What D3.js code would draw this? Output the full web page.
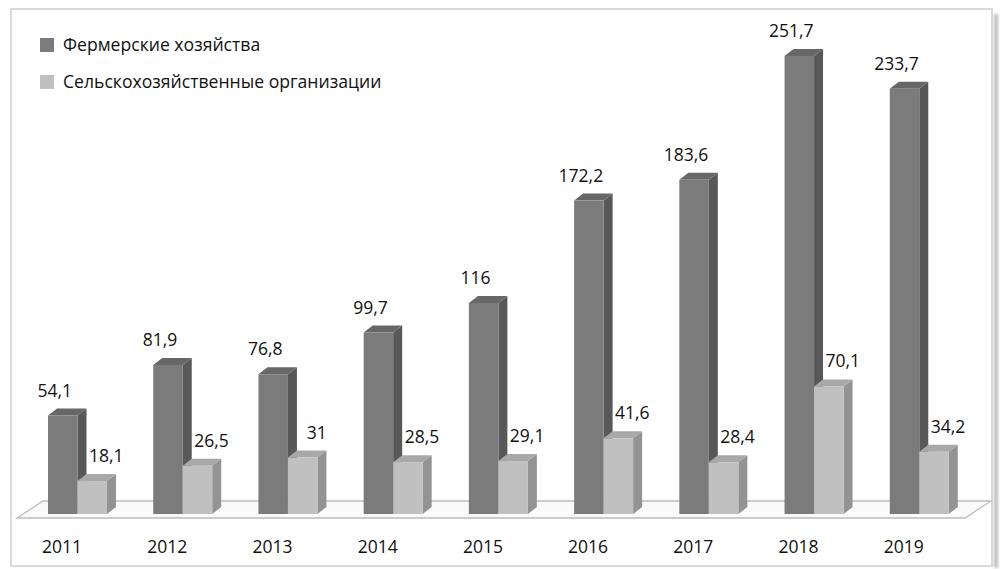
<!DOCTYPE html>
<html><head><meta charset="utf-8">
<script src="https://cdn.jsdelivr.net/npm/d3@7"></script>
<style>
html,body{margin:0;padding:0;background:#fff;}
svg{display:block;font-family:"Open Sans",sans-serif;}
</style></head>
<body>
<svg id="c" width="1001" height="569"></svg>
<script>
const years = ["2011","2012","2013","2014","2015","2016","2017","2018","2019"];
const farms = [54.1, 81.9, 76.8, 99.7, 116, 172.2, 183.6, 251.7, 233.7];
const orgs  = [18.1, 26.5, 31, 28.5, 29.1, 41.6, 28.4, 70.1, 34.2];
const seriesNames = ["Фермерские хозяйства", "Сельскохозяйственные организации"];

const fmt = v => String(v).replace(".", ",");
const svg = d3.select("#c");

// frame with shadow
const defs = svg.append("defs");
const f = defs.append("filter").attr("id","blur").attr("x","-50%").attr("y","-50%").attr("width","200%").attr("height","200%");
f.append("feGaussianBlur").attr("stdDeviation",1.5);
svg.append("rect").attr("x",994).attr("y",14).attr("width",4).attr("height",554)
  .attr("fill","#bdbdbd").attr("filter","url(#blur)");
svg.append("rect").attr("x",11).attr("y",9).attr("width",981).attr("height",557)
  .attr("fill","#fff").attr("stroke","#dadada").attr("stroke-width",2);

const x = d3.scaleBand().domain(years).range([18, 965]).paddingInner(0).paddingOuter(0);
const y = d3.scaleLinear().domain([0, 250]).range([514, 514 - 250*1.82]);
const depthX = 26, depthY = -17;      // floor depth
const bdx = 9, bdy = -7;              // bar depth
const bw = 29.5, off = 30;
const floorFront = 518;

// floor
const fx0 = x.range()[0], fx1 = x.range()[1];
svg.append("path")
  .attr("d", `M${fx0-1},${floorFront}L${fx1},${floorFront}L${fx1+depthX},${floorFront+depthY}L${fx0-1+depthX},${floorFront+depthY}Z`)
  .attr("fill","#fafafa").attr("stroke","#bcbcbc").attr("stroke-width",1.3);

const styles = [
  {front:"#7b7b7b", side:"#585858", top:"#676767"},
  {front:"#c0c0c0", side:"#939393", top:"#a8a8a8"}
];

function bar(g, x0, v, st){
  const yt = y(v), yb = y(0);
  g.append("path").attr("d",`M${x0+bw},${yb}L${x0+bw},${yt}L${x0+bw+bdx},${yt+bdy}L${x0+bw+bdx},${yb+bdy}Z`).attr("fill",st.side);
  g.append("path").attr("d",`M${x0},${yt}L${x0+bdx},${yt+bdy}L${x0+bw+bdx},${yt+bdy}L${x0+bw},${yt}Z`).attr("fill",st.top);
  g.append("rect").attr("x",x0).attr("y",yt).attr("width",bw).attr("height",yb-yt).attr("fill",st.front);
}

const gBars = svg.append("g");
years.forEach((yr,i)=>{
  const x0 = x(yr) + off;
  bar(gBars, x0, farms[i], styles[0]);
  bar(gBars, x0 + bw, orgs[i], styles[1]);
});

const lab = svg.append("g").attr("font-size",17.5).attr("fill","#111").attr("text-anchor","middle");
years.forEach((yr,i)=>{
  const x0 = x(yr) + off;
  lab.append("text").attr("x", x0 + bw/2 - 8).attr("y", y(farms[i]) - 19).text(fmt(farms[i]));
  lab.append("text").attr("x", x0 + bw*1.5 + 14).attr("y", y(orgs[i]) - 19).text(fmt(orgs[i]));
});

// x axis labels
const xa = svg.append("g").attr("transform","translate(0,553)")
  .call(d3.axisBottom(x).tickSize(0).tickPadding(0));
xa.select(".domain").remove();
xa.selectAll("text").attr("font-size",17.5).attr("fill","#111")
  .attr("font-family","Open Sans, sans-serif")
  .attr("dy",0).attr("dx", -(x.bandwidth()/2 - 44));

// legend
const leg = svg.append("g");
seriesNames.forEach((n,i)=>{
  const gy = 38 + i*37;
  leg.append("rect").attr("x",40).attr("y",gy).attr("width",14).attr("height",14).attr("fill",styles[i].front);
  leg.append("text").attr("x",63).attr("y",gy+13).attr("font-size",17.6).attr("fill","#111").text(n);
});
</script>
</body></html>
